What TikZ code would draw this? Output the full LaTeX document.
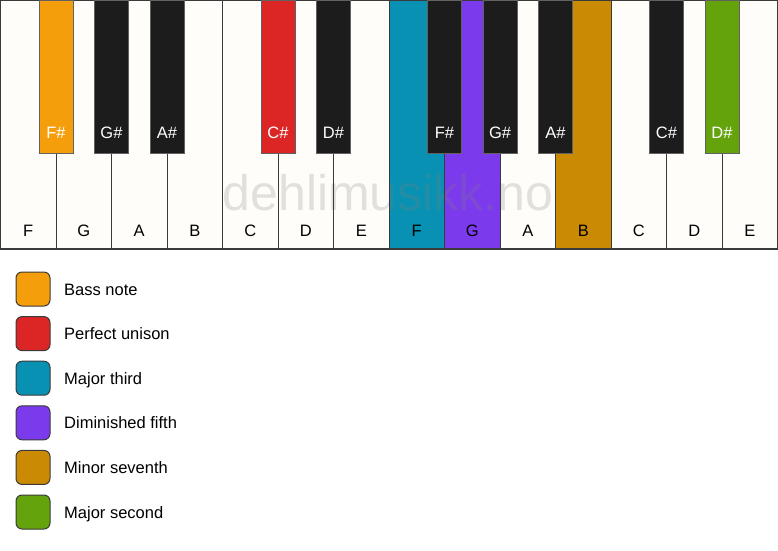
\documentclass[tikz,border=0pt]{standalone}
\usepackage{fontspec}
\setmainfont{Liberation Sans}
\definecolor{keywhite}{HTML}{FFFDF9}
\definecolor{keyblack}{HTML}{1C1C1C}
\definecolor{keyline}{HTML}{3A3A3A}
\definecolor{cbass}{HTML}{F59E0B}
\definecolor{cunison}{HTML}{DC2626}
\definecolor{cthird}{HTML}{0891B2}
\definecolor{cfifth}{HTML}{7C3AED}
\definecolor{cseventh}{HTML}{CA8A04}
\definecolor{csecond}{HTML}{65A30D}
\definecolor{wm}{HTML}{808080}
\tikzset{
  whitekey/.style={fill=keywhite, minimum width=55.5pt, minimum height=249pt, inner sep=0pt, anchor=north west},
  keyborder/.style={draw=keyline, line width=1pt},
  blackkey/.style={draw=keyline!80, line width=1pt, fill=keyblack, minimum width=34pt, minimum height=153pt, inner sep=0pt, anchor=north},
  wlabel/.style={font=\fontsize{16.5}{19}\selectfont, text=black, anchor=base, inner sep=0pt},
  blabel/.style={font=\fontsize{16.5}{19}\selectfont, text=white, anchor=base, inner sep=0pt},
  legbox/.style={draw=keyline, line width=1pt, rounded corners=6pt, minimum width=34pt, minimum height=34pt, inner sep=0pt},
  legtext/.style={font=\fontsize{16.5}{19}\selectfont, anchor=base west, inner sep=0pt},
}
\begin{document}
\begin{tikzpicture}[x=1pt,y=-1pt]
\useasboundingbox[fill=white] (0,0) rectangle (778,550);
% white keys (fills)
\foreach \i/\c in {0/keywhite,1/keywhite,2/keywhite,3/keywhite,4/keywhite,5/keywhite,6/keywhite,7/cthird,8/cfifth,9/keywhite,10/cseventh,11/keywhite,12/keywhite,13/keywhite}{
  \node[whitekey, fill=\c] (w\i) at (0.5+\i*55.5,0) {};
}
% watermark
\node[font=\fontsize{50}{56}\selectfont, text=wm, opacity=0.23] (wmark) at (388,193) {dehlimusikk.no};
% white key borders and labels
\foreach \i/\n in {0/F,1/G,2/A,3/B,4/C,5/D,6/E,7/F,8/G,9/A,10/B,11/C,12/D,13/E}{
  \draw[keyborder] (w\i.north west) rectangle (w\i.south east);
  \node[wlabel] (wl\i) at (0.5+\i*55.5+27.75,236) {\n};
}
\draw[keyline, line width=2pt] (w0.south west) -- (w13.south east);
% black keys
\foreach \i/\n/\c in {0/F\#/cbass,1/G\#/keyblack,2/A\#/keyblack,4/C\#/cunison,5/D\#/keyblack,7/F\#/keyblack,8/G\#/keyblack,9/A\#/keyblack,11/C\#/keyblack,12/D\#/csecond}{
  \node[blackkey, fill=\c] (b\i) at (0.5+\i*55.5+55.5,0) {};
  \node[blabel] (bl\i) at (0.5+\i*55.5+55.5,138) {\n};
}
% legend
\foreach \k/\c/\t in {0/cbass/Bass note,1/cunison/Perfect unison,2/cthird/Major third,3/cfifth/Diminished fifth,4/cseventh/Minor seventh,5/csecond/Major second}{
  \node[legbox, fill=\c] (lb\k) at (33,289+\k*44.6) {};
  \node[legtext] (lt\k) at (64,295+\k*44.6) {\t};
}
\end{tikzpicture}
\end{document}
